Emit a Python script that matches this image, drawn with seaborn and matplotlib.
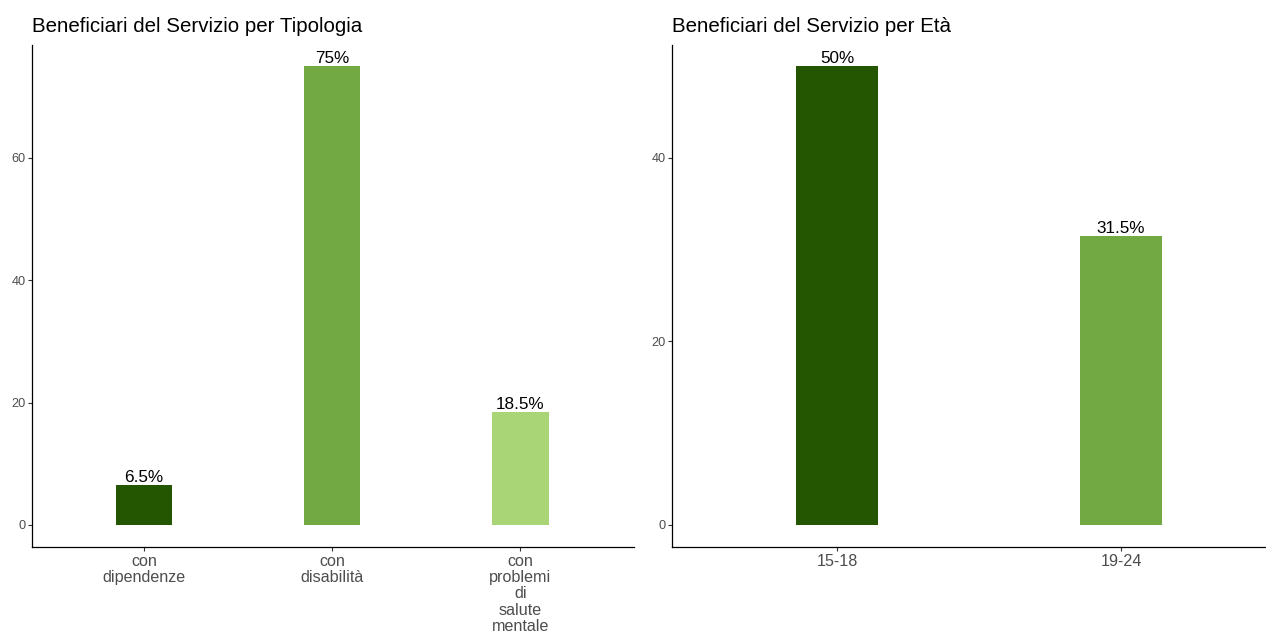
import matplotlib
matplotlib.use("Agg")
import matplotlib.pyplot as plt
import seaborn as sns
import pandas as pd

# Data
tip_categories = ["con\ndipendenze", "con\ndisabilità", "con\nproblemi\ndi\nsalute\nmentale"]
tip_values = [6.5, 75, 18.5]
eta_categories = ["15-18", "19-24"]
eta_values = [50, 31.5]
tip_colors = ["#245501", "#73A942", "#AAD576"]
eta_colors = ["#245501", "#73A942"]
title_left = "Beneficiari del Servizio per Tipologia"
title_right = "Beneficiari del Servizio per Età"

sns.set_theme(style="white")
plt.rcParams['font.family'] = ['Liberation Sans', 'DejaVu Sans']

W, H = 1266, 639
fig = plt.figure(figsize=(W / 100, H / 100), dpi=100)

ax1 = fig.add_axes([32 / W, 1 - 547 / H, (634 - 32) / W, (547 - 45) / H])
ax2 = fig.add_axes([672 / W, 1 - 547 / H, (W - 672) / W, (547 - 45) / H])


def draw(ax, cats, vals, cols, title, yticks, ylim, xlim, width):
    df = pd.DataFrame({"cat": cats, "val": vals})
    sns.barplot(data=df, x="cat", y="val", hue="cat", palette=cols,
                order=cats, hue_order=cats, width=width, legend=False,
                ax=ax, saturation=1, edgecolor="none")
    for cont in ax.containers:
        ax.bar_label(cont, labels=[f"{v:g}%" for v in cont.datavalues],
                     padding=0, fontsize=12.3, color="black")
    ax.set_xlim(*xlim)
    ax.set_ylim(*ylim)
    ax.set_yticks(yticks)
    ax.set_xlabel("")
    ax.set_ylabel("")
    for s in ["top", "right"]:
        ax.spines[s].set_visible(False)
    for s in ["left", "bottom"]:
        ax.spines[s].set_color("black")
        ax.spines[s].set_linewidth(0.9)
    ax.tick_params(axis="both", which="both", direction="out", length=3.2,
                   width=0.8, color="#333333", bottom=True, left=True)
    ax.tick_params(axis="x", labelsize=11.6, labelcolor="#4d4d4d", pad=1.5)
    ax.tick_params(axis="y", labelsize=9.2, labelcolor="#4d4d4d", pad=1.5)
    for t in ax.get_xticklabels():
        t.set_linespacing(1.12)
    ax.set_title(title, loc="left", fontsize=14.8, color="black", pad=9)


draw(ax1, tip_categories, tip_values, tip_colors, title_left,
     [0, 20, 40, 60], (-3.6, 78.4), (-0.596, 2.604), 0.3)
draw(ax2, eta_categories, eta_values, eta_colors, title_right,
     [0, 20, 40], (-2.4, 52.3), (-0.581, (W - 672) / 284 - 0.581), 0.292)

fig.savefig("out.png", dpi=100, facecolor="white")
